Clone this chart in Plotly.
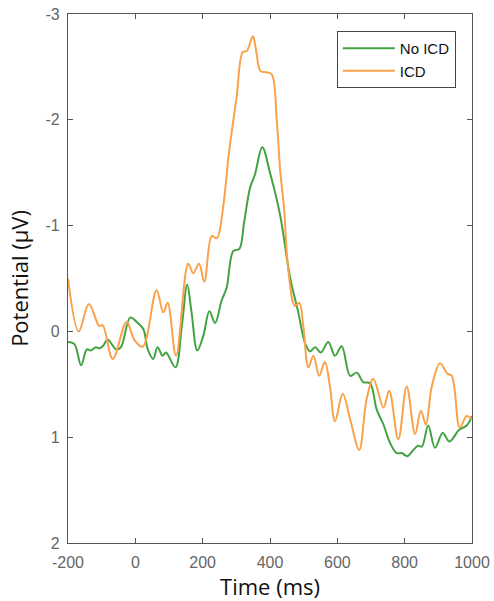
import plotly.graph_objects as go

# Time (ms) and potential (µV) for ICD group
icd_time = [-200, -168, -138, -107, -97, -67, -26, -3, 22, 63, 83, 96, 121, 157, 172, 189, 205,
            227, 242, 261, 276, 283, 301, 319, 331, 349, 358, 372, 388, 405, 420, 430, 442, 454,
            474, 487, 499, 514, 529, 546, 563, 578, 593, 616, 638, 665, 687, 707, 737, 754, 781,
            806, 831, 848, 863, 880, 905, 927, 940, 964, 984, 1000]
icd_pot = [-0.50, 0.00, -0.26, -0.05, -0.06, 0.26, -0.09, 0.08, 0.145, -0.39, -0.18, -0.27, 0.23,
           -0.64, -0.55, -0.64, -0.47, -0.90, -0.88, -1.18, -1.63, -1.81, -2.22, -2.64, -2.65,
           -2.79, -2.67, -2.46, -2.45, -2.43, -2.00, -1.53, -1.15, -0.59, -0.24, -0.27, -0.05,
           0.34, 0.23, 0.42, 0.29, 0.52, 0.85, 0.59, 0.83, 1.12, 0.64, 0.45, 0.72, 0.56, 1.02,
           0.52, 0.97, 0.75, 0.88, 0.53, 0.30, 0.40, 0.42, 0.91, 0.80, 0.83]

# Time (ms) and potential (µV) for No ICD group
noicd_time = [-200, -181, -161, -144, -132, -117, -107, -97, -82, -57, -43, -15, 7, 24, 37, 53,
              66, 81, 91, 119, 138, 154, 167, 184, 202, 220, 237, 256, 271, 291, 309, 323, 341,
              355, 377, 400, 430, 459, 484, 504, 519, 534, 551, 573, 593, 613, 638, 658, 677,
              697, 717, 737, 756, 776, 791, 808, 826, 840, 851, 870, 890, 913, 933, 962, 984, 1000]
noicd_pot = [0.10, 0.12, 0.32, 0.17, 0.18, 0.15, 0.16, 0.14, 0.08, 0.17, 0.15, -0.13, -0.08, -0.02,
             0.17, 0.26, 0.15, 0.23, 0.20, 0.34, -0.05, -0.44, -0.18, 0.18, 0.04, -0.19, -0.08,
             -0.29, -0.41, -0.76, -0.78, -1.03, -1.36, -1.48, -1.74, -1.50, -1.10, -0.52, -0.18,
             0.11, 0.19, 0.15, 0.20, 0.10, 0.23, 0.14, 0.42, 0.39, 0.48, 0.49, 0.74, 0.88, 1.05,
             1.15, 1.15, 1.18, 1.12, 1.08, 1.09, 0.89, 1.10, 0.96, 1.04, 0.93, 0.89, 0.80]

x_ticks = [-200, 0, 200, 400, 600, 800, 1000]
y_ticks = [-3, -2, -1, 0, 1, 2]

GREEN = "#43a343"
ORANGE = "#f9a24a"
AXIS = "#555555"

fig = go.Figure()
fig.add_trace(go.Scatter(x=noicd_time, y=noicd_pot, mode="lines", name="No ICD",
                         line=dict(color=GREEN, width=2, shape="spline", smoothing=1.0)))
fig.add_trace(go.Scatter(x=icd_time, y=icd_pot, mode="lines", name="ICD",
                         line=dict(color=ORANGE, width=2, shape="spline", smoothing=1.0)))

axis_common = dict(showline=True, linecolor=AXIS, linewidth=1.3, mirror="ticks",
                   ticks="inside", ticklen=5, tickcolor=AXIS, tickwidth=1.3,
                   showgrid=False, zeroline=False, automargin=False,
                   tickfont=dict(family="Liberation Sans, Arial", size=16, color="#666666"))

fig.update_xaxes(range=[-200, 1000], tickvals=x_ticks, ticktext=[str(v) for v in x_ticks],
                 ticklabelstandoff=5,
                 title=dict(text="Time (ms)", standoff=4,
                            font=dict(family="Open Sans", size=22, color="#111111")),
                 **axis_common)
fig.update_yaxes(range=[2, -3], tickvals=y_ticks, ticktext=[str(v) for v in y_ticks],
                 ticklabelstandoff=4,
                 title=dict(text="Potential (μV)", standoff=10,
                            font=dict(family="Open Sans", size=22, color="#111111")),
                 **axis_common)

fig.update_layout(
    width=494, height=601,
    margin=dict(l=68, r=22, t=14, b=58),
    paper_bgcolor="white", plot_bgcolor="white",
    showlegend=True,
    legend=dict(x=0.96, y=0.968, xanchor="right", yanchor="top",
                bgcolor="white", bordercolor="#444444", borderwidth=1,
                font=dict(family="Liberation Sans, Arial", size=15, color="#111111"),
                tracegroupgap=0, itemwidth=52),
)

fig.write_html("out.html")
